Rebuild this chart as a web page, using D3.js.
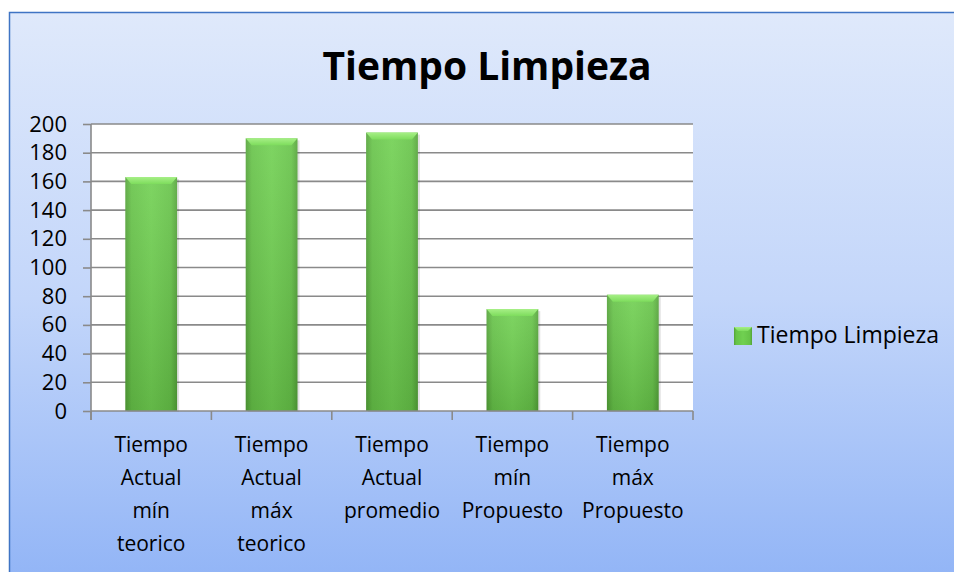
<!DOCTYPE html>
<html>
<head>
<meta charset="utf-8">
<script src="https://cdn.jsdelivr.net/npm/d3@7"></script>
<style>
  body { margin: 0; background: #fff; }
  svg { display: block; font-family: "Open Sans", sans-serif; }
</style>
</head>
<body>
<svg width="954" height="572"></svg>
<script>
var width = 954,
  height = 572;

// data
var categories = [
  ["Tiempo", "Actual", "mín", "teorico"],
  ["Tiempo", "Actual", "máx", "teorico"],
  ["Tiempo", "Actual", "promedio"],
  ["Tiempo", "mín", "Propuesto"],
  ["Tiempo", "máx", "Propuesto"]
];
var values = [163, 190, 194, 71, 81];
var yTicks = [0, 20, 40, 60, 80, 100, 120, 140, 160, 180, 200];
var seriesName = "Tiempo Limpieza";
var title = "Tiempo Limpieza";

var svg = d3.select("svg");
var defs = svg.append("defs");

var bg = defs.append("linearGradient").attr("id", "bg").attr("x1", 0).attr("y1", 0).attr("x2", 0).attr("y2", 1);
bg.append("stop").attr("offset", "0%").attr("stop-color", "#dfe9fb");
bg.append("stop").attr("offset", "50%").attr("stop-color", "#c3d6fa");
bg.append("stop").attr("offset", "100%").attr("stop-color", "#91b4f6");

var barG = defs.append("linearGradient").attr("id", "barG").attr("x1", 0).attr("y1", 0).attr("x2", 1).attr("y2", 0);
barG.append("stop").attr("offset", "0%").attr("stop-color", "#53a338");
barG.append("stop").attr("offset", "12%").attr("stop-color", "#66c348");
barG.append("stop").attr("offset", "50%").attr("stop-color", "#70d051");
barG.append("stop").attr("offset", "88%").attr("stop-color", "#66c348");
barG.append("stop").attr("offset", "100%").attr("stop-color", "#53a338");

var barV = defs.append("linearGradient").attr("id", "barV").attr("x1", 0).attr("y1", 0).attr("x2", 0).attr("y2", 1);
barV.append("stop").attr("offset", "0%").attr("stop-color", "#fff").attr("stop-opacity", 0.1);
barV.append("stop").attr("offset", "100%").attr("stop-color", "#000").attr("stop-opacity", 0.12);

var bevel = defs.append("linearGradient").attr("id", "bevel").attr("x1", 0).attr("y1", 0).attr("x2", 0).attr("y2", 1);
bevel.append("stop").attr("offset", "0%").attr("stop-color", "#a6ef86");
bevel.append("stop").attr("offset", "100%").attr("stop-color", "#7ddc5c");

// chart background + border
svg.append("rect")
  .attr("x", 9.5).attr("y", 12.5)
  .attr("width", width).attr("height", height)
  .attr("fill", "url(#bg)")
  .attr("stroke", "#3f74c4")
  .attr("stroke-width", 1.5);

svg.append("text")
  .attr("x", 487).attr("y", 80)
  .attr("text-anchor", "middle")
  .attr("font-size", 39)
  .attr("font-weight", "bold")
  .attr("fill", "#000")
  .text(title);

var pLeft = 91, pRight = 693, pTop = 124, pBottom = 411;

var x = d3.scaleBand()
  .domain(d3.range(values.length))
  .range([pLeft, pRight])
  .paddingInner(0.57)
  .paddingOuter(0.285);

var y = d3.scaleLinear().domain([0, 200]).range([pBottom, pTop]);

// plot area
svg.append("rect")
  .attr("x", pLeft).attr("y", pTop)
  .attr("width", pRight - pLeft).attr("height", pBottom - pTop)
  .attr("fill", "#fff");

// gridlines
svg.append("g")
  .selectAll("line")
  .data(yTicks.filter((d) => d > 0))
  .enter()
  .append("line")
  .attr("x1", pLeft).attr("x2", pRight)
  .attr("y1", (d) => y(d)).attr("y2", (d) => y(d))
  .attr("stroke", "#8a8a8a")
  .attr("stroke-width", 1.6);

// y axis
var yAxis = svg.append("g")
  .attr("transform", "translate(" + pLeft + ",0)")
  .call(d3.axisLeft(y).tickValues(yTicks).tickSize(8).tickPadding(16));
yAxis.selectAll("text").attr("font-size", 22).attr("fill", "#000").attr("font-family", "Open Sans");
yAxis.selectAll("line").attr("stroke", "#8a8a8a").attr("stroke-width", 1.6);
yAxis.select(".domain").attr("stroke", "#8a8a8a").attr("stroke-width", 1.6).attr("d", "M0," + (pBottom + 9) + "V" + pTop);

// bars
var bars = svg.append("g")
  .selectAll("g")
  .data(values)
  .enter()
  .append("g");

bars.append("rect")
  .attr("x", (d, i) => x(i) + 2)
  .attr("y", (d) => y(d) + 2)
  .attr("width", x.bandwidth())
  .attr("height", (d) => pBottom - y(d) - 1)
  .attr("fill", "#000")
  .attr("opacity", 0.12);

bars.append("rect")
  .attr("x", (d, i) => x(i))
  .attr("y", (d) => y(d))
  .attr("width", x.bandwidth())
  .attr("height", (d) => pBottom - y(d))
  .attr("fill", "url(#barG)");

bars.append("rect")
  .attr("x", (d, i) => x(i))
  .attr("y", (d) => y(d))
  .attr("width", x.bandwidth())
  .attr("height", (d) => pBottom - y(d))
  .attr("fill", "url(#barV)");

// top bevel
bars.append("path")
  .attr("d", (d, i) => {
    var x0 = x(i), x1 = x(i) + x.bandwidth(), t = y(d);
    return "M" + x0 + "," + t + "H" + x1 + "L" + (x1 - 6) + "," + (t + 7) + "H" + (x0 + 6) + "Z";
  })
  .attr("fill", "url(#bevel)");

// x axis
var xAxis = svg.append("g");
xAxis.append("line")
  .attr("x1", pLeft).attr("x2", pRight)
  .attr("y1", pBottom).attr("y2", pBottom)
  .attr("stroke", "#8a8a8a").attr("stroke-width", 1.6);
xAxis.selectAll(".sep")
  .data(d3.range(values.length + 1))
  .enter()
  .append("line")
  .attr("x1", (d) => pLeft + d * x.step())
  .attr("x2", (d) => pLeft + d * x.step())
  .attr("y1", pBottom).attr("y2", pBottom + 9)
  .attr("stroke", "#8a8a8a").attr("stroke-width", 1.6);

var labels = svg.append("g")
  .selectAll("text")
  .data(categories)
  .enter()
  .append("text")
  .attr("text-anchor", "middle")
  .attr("font-size", 21)
  .attr("fill", "#000");

labels.selectAll("tspan")
  .data((d, i) => d.map((s) => ({ s: s, i: i })))
  .enter()
  .append("tspan")
  .attr("x", (d) => x(d.i) + x.bandwidth() / 2)
  .attr("y", (d, j) => 452 + j * 33)
  .text((d) => d.s);

// legend
var legend = svg.append("g").attr("transform", "translate(734,327)");
legend.append("rect").attr("width", 18).attr("height", 18).attr("fill", "url(#barG)");
legend.append("path").attr("d", "M0,0H18L14,4H4Z").attr("fill", "url(#bevel)");
legend.append("text")
  .attr("x", 23).attr("y", 16)
  .attr("font-size", 23)
  .attr("fill", "#000")
  .text(seriesName);
</script>
</body>
</html>
